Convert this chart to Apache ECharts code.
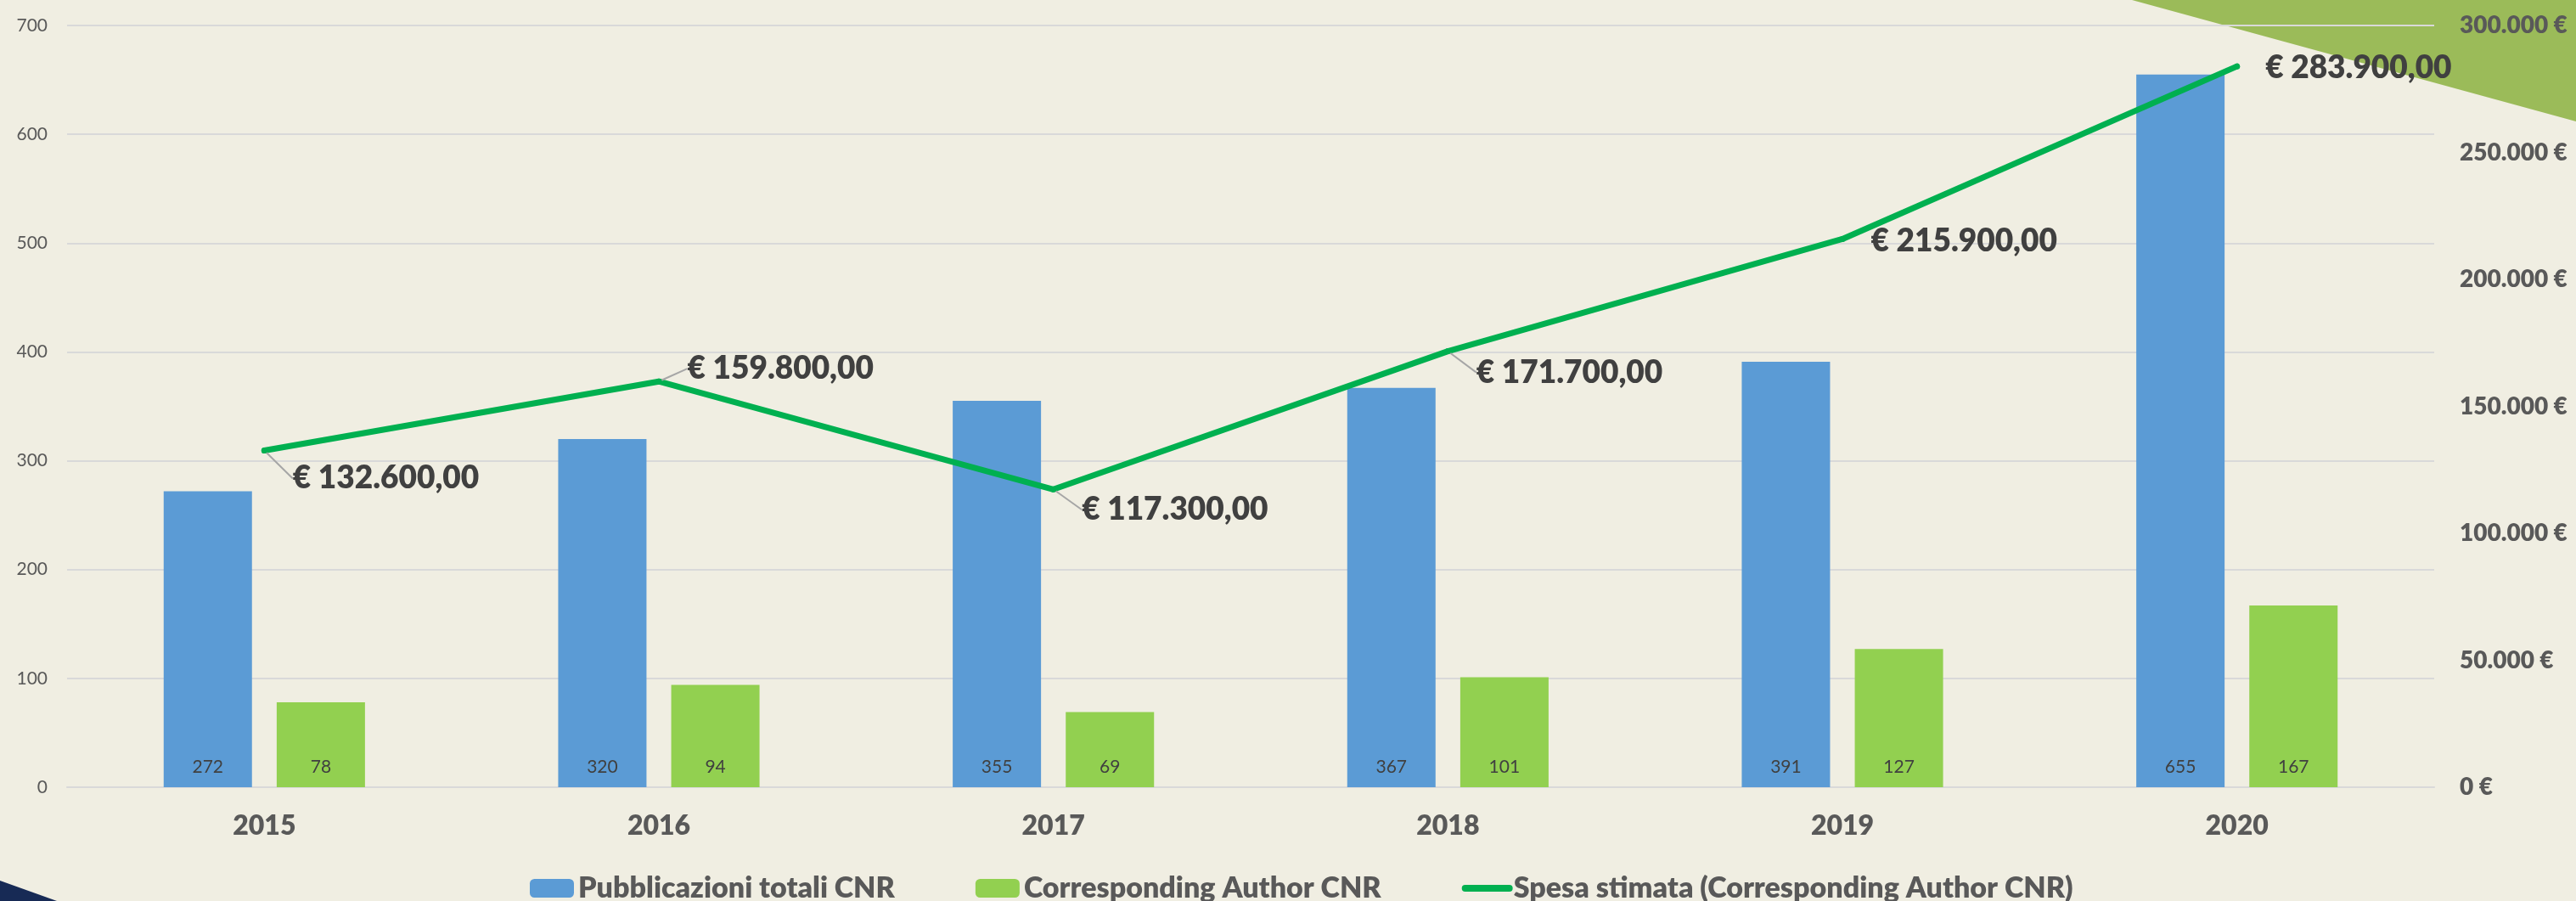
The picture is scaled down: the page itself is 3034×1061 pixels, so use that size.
<!DOCTYPE html>
<html>
<head>
<meta charset="utf-8" />
<style>
  html, body { margin: 0; padding: 0; background: #F0EEE2; }
  #main { width: 3034px; height: 1061px; }
</style>
</head>
<body>
<div id="main"></div>
<script src="https://cdn.jsdelivr.net/npm/echarts@6/dist/echarts.min.js"></script>
<script>
  var years = ['2015', '2016', '2017', '2018', '2019', '2020'];
  var pubTotali = [272, 320, 355, 367, 391, 655];
  var corrAuthor = [78, 94, 69, 101, 127, 167];
  var spesa = [132600, 159800, 117300, 171700, 215900, 283900];
  var leftTicks = [0, 100, 200, 300, 400, 500, 600, 700];
  var rightTicks = [0, 50000, 100000, 150000, 200000, 250000, 300000];

  // vertical shift of each euro label from its point
  var labelShift = [33, -15, 24, 25, 3, 2];
  var noLeader = [false, false, false, false, true, true];

  function thousands(n) {
    return String(Math.round(n)).replace(/\B(?=(\d{3})+(?!\d))/g, '.');
  }
  function euro(v) {
    var cents = Math.round(v * 100) % 100;
    return '€ ' + thousands(Math.floor(v)) + ',' + (cents < 10 ? '0' : '') + cents;
  }

  var chart = echarts.init(document.getElementById('main'));
  var font = 'Lato';
  var option = {
    backgroundColor: '#F0EEE2',
    textStyle: { fontFamily: font },
    graphic: [
      {
        type: 'polygon', z: -1, silent: true,
        shape: { points: [[2511, 0], [3034, 0], [3034, 143]] },
        style: { fill: '#9BBB59' }
      },
      {
        type: 'polygon', z: -1, silent: true,
        shape: { points: [[0, 1037], [67, 1061], [0, 1061]] },
        style: { fill: '#172A55' }
      }
    ],
    grid: { left: 79, right: 167, top: 30, bottom: 134 },
    legend: {
      left: 619,
      top: 1024,
      itemWidth: 52,
      itemHeight: 22,
      itemGap: 95,
      textStyle: { color: '#595959', fontSize: 34, fontWeight: 800, fontFamily: font },
      data: [
        { name: 'Pubblicazioni totali CNR' },
        { name: 'Corresponding Author CNR' },
        {
          name: 'Spesa stimata (Corresponding Author CNR)',
          itemStyle: { opacity: 0 },
          lineStyle: { color: '#00B050', width: 8, cap: 'round' }
        }
      ]
    },
    xAxis: {
      type: 'category',
      data: years,
      axisLine: { show: true, lineStyle: { color: '#D9D9D9', width: 2 } },
      axisTick: { show: false },
      axisLabel: { color: '#595959', fontSize: 32, fontWeight: 800, margin: 30 }
    },
    yAxis: [
      {
        type: 'value',
        min: leftTicks[0],
        max: leftTicks[leftTicks.length - 1],
        interval: leftTicks[1] - leftTicks[0],
        axisLine: { show: false },
        axisTick: { show: false },
        splitLine: { lineStyle: { color: '#D9D9D9', width: 2 } },
        axisLabel: { color: '#595959', fontSize: 21, margin: 23 }
      },
      {
        type: 'value',
        min: rightTicks[0],
        max: rightTicks[rightTicks.length - 1],
        interval: rightTicks[1] - rightTicks[0],
        axisLine: { show: false },
        axisTick: { show: false },
        splitLine: { show: false },
        axisLabel: {
          color: '#595959', fontSize: 28, fontWeight: 800, margin: 30,
          formatter: function (v) { return thousands(v) + ' €'; }
        }
      }
    ],
    series: [
      {
        name: 'Pubblicazioni totali CNR',
        type: 'bar',
        data: pubTotali,
        barWidth: 104,
        barGap: '28%',
        itemStyle: { color: '#5B9BD5' },
        label: { show: true, position: 'insideBottom', distance: 13, color: '#404040', fontSize: 21 }
      },
      {
        name: 'Corresponding Author CNR',
        type: 'bar',
        data: corrAuthor,
        barWidth: 104,
        barGap: '28%',
        itemStyle: { color: '#92D050' },
        label: { show: true, position: 'insideBottom', distance: 13, color: '#404040', fontSize: 21 }
      },
      {
        name: 'Spesa stimata (Corresponding Author CNR)',
        type: 'line',
        yAxisIndex: 1,
        data: spesa.map(function (v, i) {
          return noLeader[i] ? { value: v, labelLine: { show: false } } : { value: v };
        }),
        symbol: 'circle',
        symbolSize: 7,
        itemStyle: { color: '#00B050' },
        lineStyle: { color: '#00B050', width: 7, cap: 'round' },
        z: 5,
        label: {
          show: true,
          position: 'right',
          distance: 30,
          color: '#404040',
          fontSize: 37,
          fontWeight: 800,
          formatter: function (p) { return euro(p.value); }
        },
        labelLine: { show: true, lineStyle: { color: '#A6A6A6', width: 2 } },
        labelLayout: function (p) {
          return { dy: labelShift[p.dataIndex] };
        }
      }
    ]
  };
  chart.setOption(option);
</script>
</body>
</html>
